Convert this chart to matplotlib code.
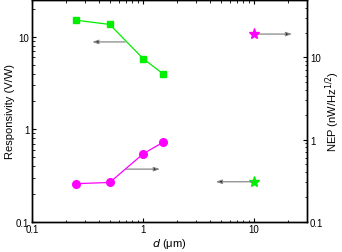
import matplotlib
matplotlib.use("Agg")
import matplotlib.pyplot as plt

plt.rcParams['font.family'] = ['Liberation Sans', 'DejaVu Sans']

# data
d_um = [0.25, 0.5, 1.0, 1.5]
responsivity = [15.1, 13.6, 5.8, 4.0]       # V/W, left axis
nep = [0.29, 0.30, 0.67, 0.92]              # nW/Hz^1/2, right axis
ref_d = [10]
ref_resp = [0.27]
ref_nep = [19.4]

green = '#00ee00'
magenta = '#ff00ff'

fig = plt.figure(figsize=(3.42, 2.53), dpi=100)
ax = fig.add_axes([0.094, 0.12, 0.804, 0.876])
ax2 = ax.twinx()

ax.plot(d_um, responsivity, color=green, marker='s', ms=5, lw=0.9)
ax.plot(ref_d, ref_resp, color=green, marker='*', ms=8, ls='none')
ax2.plot(d_um, nep, color=magenta, marker='o', ms=5.5, lw=0.9)
ax2.plot(ref_d, ref_nep, color=magenta, marker='*', ms=8, ls='none')

ax.set_xscale('log')
ax.set_yscale('log')
ax2.set_yscale('log')
ax.set_xlim(0.1, 30)
ax.set_ylim(0.1, 25)
ax2.set_ylim(0.1, 50)

# arrows pointing to the axis each series belongs to
arrow = dict(arrowstyle='-|>,head_length=0.35,head_width=0.12', ec='#888888', fc='black', lw=0.9, shrinkA=0, shrinkB=0)
ax.annotate('', xy=(0.347, 8.8), xytext=(0.69, 8.8), arrowprops=arrow)
ax.annotate('', xy=(1.42, 0.37), xytext=(0.70, 0.37), arrowprops=arrow)
ax.annotate('', xy=(22, 10.7), xytext=(10.4, 10.7), arrowprops=arrow)
ax.annotate('', xy=(4.5, 0.27), xytext=(9.6, 0.27), arrowprops=arrow)

for a in (ax, ax2):
    a.tick_params(which='both', direction='in', labelsize=7, top=True, pad=2)
    a.tick_params(which='major', length=3, width=0.8)
    a.tick_params(which='minor', length=1.8, width=0.6)
    for s in a.spines.values():
        s.set_linewidth(1.0)

ax.set_xticks([0.1, 1, 10])
ax.set_xticklabels(['0.1', '1', '10'])
ax.set_yticks([0.1, 1, 10])
ax.set_yticklabels(['0.1', '1', '10'])
ax2.set_yticks([0.1, 1, 10])
ax2.set_yticklabels(['0.1', '1', '10'])

ax.set_xlabel(r'$d$ ($\mathregular{\mu}$m)', fontsize=8, labelpad=1)
ax.set_ylabel('Responsivity (V/W)', fontsize=8, labelpad=1)
ax2.set_ylabel(r'NEP (nW/Hz$^{1/2}$)', fontsize=8, labelpad=0)

plt.savefig('out.png', dpi=100)
